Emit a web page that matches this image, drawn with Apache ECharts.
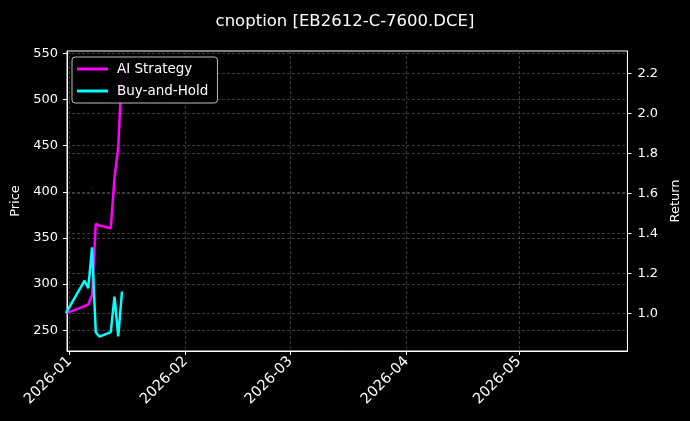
<!DOCTYPE html>
<html>
<head>
<meta charset="utf-8">
<script src="https://cdn.jsdelivr.net/npm/echarts@6/dist/echarts.min.js"></script>
<style>
html,body{margin:0;padding:0;background:#000;}
#chart{width:690px;height:421px;}
</style>
</head>
<body>
<div id="chart"></div>
<script>
// ---- data ----
const dates = ['2025-12-31','2026-01-05','2026-01-06','2026-01-07','2026-01-08','2026-01-09','2026-01-12','2026-01-13','2026-01-14','2026-01-15'];
const aiStrategy = [1.00, 1.036, 1.045, 1.09, 1.447, 1.439, 1.425, 1.677, 1.83, 2.24];
const buyAndHold = [1.00, 1.163, 1.125, 1.33, 0.905, 0.883, 0.906, 1.083, 0.884, 1.109];
const markerDates = ['2026-01-05','2026-01-07','2026-01-09'];
const markerPrices = [355, 405, 440];
const monthTicks = ['2026-01','2026-02','2026-03','2026-04','2026-05'];
const priceTicks = [250, 300, 350, 400, 450, 500, 550];
const returnTicks = [1.0, 1.2, 1.4, 1.6, 1.8, 2.0, 2.2];

function ts(s, h, mi) {
  const p = s.split('-').map(Number);
  return new Date(p[0], p[1] - 1, p[2] || 1, h || 0, mi || 0).getTime();
}
const monthTs = monthTicks.map(m => ts(m));
const font = 'DejaVu Sans';
const gridLine = {show: true, lineStyle: {color: '#555', width: 0.7, type: [3, 2]}};

const chart = echarts.init(document.getElementById('chart'));
chart.setOption({
  backgroundColor: '#000',
  animation: false,
  title: {
    text: 'cnoption [EB2612-C-7600.DCE]',
    left: 'center', top: 8,
    textStyle: {color: '#fff', fontFamily: font, fontSize: 16.5, fontWeight: 'normal'}
  },
  grid: {left: 67, right: 61, top: 51, bottom: 70, show: true, borderColor: '#fff', borderWidth: 1, containLabel: false},
  legend: {
    left: 72, top: 57, orient: 'vertical', z: 20,
    padding: [4, 9, 4, 5],
    itemGap: 6, itemWidth: 31, itemHeight: 3,
    backgroundColor: 'rgba(0,0,0,0.9)', borderColor: '#bbb', borderWidth: 1, borderRadius: 3,
    textStyle: {color: '#fff', fontFamily: font, fontSize: 13.5, lineHeight: 16, padding: [0, 0, 0, 4]},
    data: [{name: 'AI Strategy', icon: 'rect'}, {name: 'Buy-and-Hold', icon: 'rect'}]
  },
  xAxis: {
    type: 'value',
    min: ts('2025-12-31', 7, 30),
    max: ts('2026-05-30'),
    axisLine: {show: true, lineStyle: {color: '#fff'}},
    axisTick: {show: true, length: 4, lineStyle: {color: '#fff'}, customValues: monthTs},
    axisLabel: {
      color: '#fff', fontFamily: font, fontSize: 14.5, rotate: 45, margin: 8,
      customValues: monthTs,
      formatter: v => monthTicks[monthTs.indexOf(v)] || ''
    },
    splitLine: gridLine
  },
  yAxis: [{
    type: 'value', min: 227.5, max: 552.7, position: 'left',
    name: 'Price', nameLocation: 'middle', nameGap: 42, nameRotate: 90,
    nameTextStyle: {color: '#fff', fontFamily: font, fontSize: 13},
    axisLine: {show: true, lineStyle: {color: '#fff'}},
    axisTick: {show: true, length: 4, lineStyle: {color: '#fff'}, customValues: priceTicks},
    axisLabel: {color: '#fff', fontFamily: font, fontSize: 13, margin: 9, customValues: priceTicks},
    splitLine: gridLine
  }, {
    type: 'value', min: 0.8115, max: 2.3115, position: 'right',
    name: 'Return', nameLocation: 'middle', nameGap: 36, nameRotate: 90,
    nameTextStyle: {color: '#fff', fontFamily: font, fontSize: 13},
    axisLine: {show: true, lineStyle: {color: '#fff'}},
    axisTick: {show: true, length: 4, lineStyle: {color: '#fff'}, customValues: returnTicks},
    axisLabel: {color: '#fff', fontFamily: font, fontSize: 13, margin: 10, customValues: returnTicks,
      formatter: v => v.toFixed(1)},
    splitLine: gridLine
  }],
  series: [{
    name: 'Price markers', type: 'scatter', yAxisIndex: 0,
    symbolSize: 2, itemStyle: {color: '#4a0c0c'},
    data: markerDates.map((d, i) => [ts(d), markerPrices[i]]), z: 1
  }, {
    name: 'AI Strategy', type: 'line', yAxisIndex: 1, showSymbol: false, symbol: 'none',
    lineStyle: {color: '#ff00ff', width: 2.5}, itemStyle: {color: '#ff00ff'},
    data: dates.map((d, i) => [ts(d), aiStrategy[i]]), z: 2
  }, {
    name: 'Buy-and-Hold', type: 'line', yAxisIndex: 1, showSymbol: false, symbol: 'none',
    lineStyle: {color: '#00ffff', width: 2.5}, itemStyle: {color: '#00ffff'},
    data: dates.map((d, i) => [ts(d), buyAndHold[i]]), z: 3
  }]
});
</script>
</body>
</html>
